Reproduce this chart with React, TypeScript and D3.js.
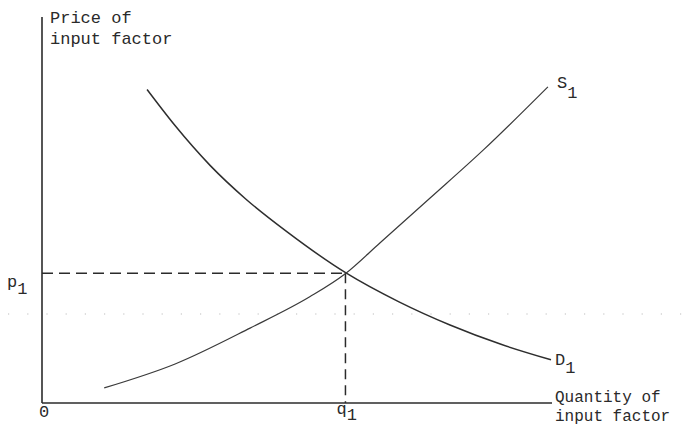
import React from "react";
import * as d3 from "d3";

// Data (quantity 0..100, price 0..100)
const supplyQ = [12.2, 26.1, 40.8, 52.5, 59.4, 66.3, 76.1, 86.5, 99.2];
const supplyP = [3.9, 10.1, 19.4, 27.5, 33.4, 41.5, 53.1, 65.5, 81.9];
const demandQ = [20.6, 26, 33, 40, 48, 59.6, 70, 80, 90, 99.8];
const demandP = [81.2, 72.0, 61.5, 52.8, 44.4, 33.7, 26.2, 20.2, 15.2, 11.2];
const equilibriumQ = 59.5;
const equilibriumP = 33.6;
const yAxisLabel = ["Price of", "input factor"];
const xAxisLabel = ["Quantity of", "input factor"];
const originLabel = "0";
const supplyLabel = ["S", "1"];
const demandLabel = ["D", "1"];
const priceLabel = ["p", "1"];
const quantityLabel = ["q", "1"];

const W = 684;
const H = 426;
const FONT = "'Liberation Mono', 'Courier New', monospace";

export default function App() {
  const x = d3.scaleLinear().domain([0, 100]).range([42, 552]);
  const y = d3.scaleLinear().domain([0, 100]).range([403, 17]);

  const line = d3
    .line<[number, number]>()
    .x((d) => x(d[0]))
    .y((d) => y(d[1]))
    .curve(d3.curveMonotoneX);

  const supply = supplyQ.map((q, i) => [q, supplyP[i]] as [number, number]);
  const demand = demandQ.map((q, i) => [q, demandP[i]] as [number, number]);

  const ex = x(equilibriumQ);
  const ey = y(equilibriumP);
  const x0 = x(0);
  const y0 = y(0);

  return (
    <svg
      width={W}
      height={H}
      style={{ position: "absolute", left: 0, top: 0, background: "#fff" }}
      fontFamily={FONT}
    >
      <rect x={0} y={0} width={W} height={H} fill="#fff" />
      {/* faint dotted scan line */}
      <line x1={8} x2={W} y1={314} y2={314} stroke="#bdbdbd" strokeWidth={1.2} strokeDasharray="1.2,18" />

      {/* axes */}
      <line x1={x0} x2={x0} y1={y(100)} y2={y0} stroke="#2b2b2b" strokeWidth={1.6} />
      <line x1={x0} x2={x(100)} y1={y0} y2={y0} stroke="#2b2b2b" strokeWidth={1.6} />

      {/* equilibrium guides */}
      <line x1={x0} x2={ex} y1={ey} y2={ey} stroke="#2b2b2b" strokeWidth={1.5} strokeDasharray="11,6" />
      <line x1={ex} x2={ex} y1={ey} y2={y0} stroke="#2b2b2b" strokeWidth={1.5} strokeDasharray="10,6" />

      {/* curves */}
      <path d={line(demand) || ""} fill="none" stroke="#2e2e2e" strokeWidth={1.5} />
      <path d={line(supply) || ""} fill="none" stroke="#3a3a3a" strokeWidth={1.2} />

      {/* labels */}
      <g fill="#2a2a2a" fontSize={17}>
        <text x={50} y={23}>{yAxisLabel[0]}</text>
        <text x={50} y={44}>{yAxisLabel[1]}</text>
        <text x={555} y={402} fontSize={16}>{xAxisLabel[0]}</text>
        <text x={555} y={421} fontSize={16}>{xAxisLabel[1]}</text>
        <text x={39} y={417}>{originLabel}</text>
        <text x={x(100) + 5} y={y(81.9) + 1}>
          {supplyLabel[0]}
          <tspan dy={10}>{supplyLabel[1]}</tspan>
        </text>
        <text x={x(100) + 3} y={y(11.2) + 5}>
          {demandLabel[0]}
          <tspan dy={8}>{demandLabel[1]}</tspan>
        </text>
        <text x={7} y={ey + 14}>
          {priceLabel[0]}
          <tspan dy={7}>{priceLabel[1]}</tspan>
        </text>
        <text x={ex - 9} y={414}>
          {quantityLabel[0]}
          <tspan dy={6}>{quantityLabel[1]}</tspan>
        </text>
      </g>
    </svg>
  );
}
